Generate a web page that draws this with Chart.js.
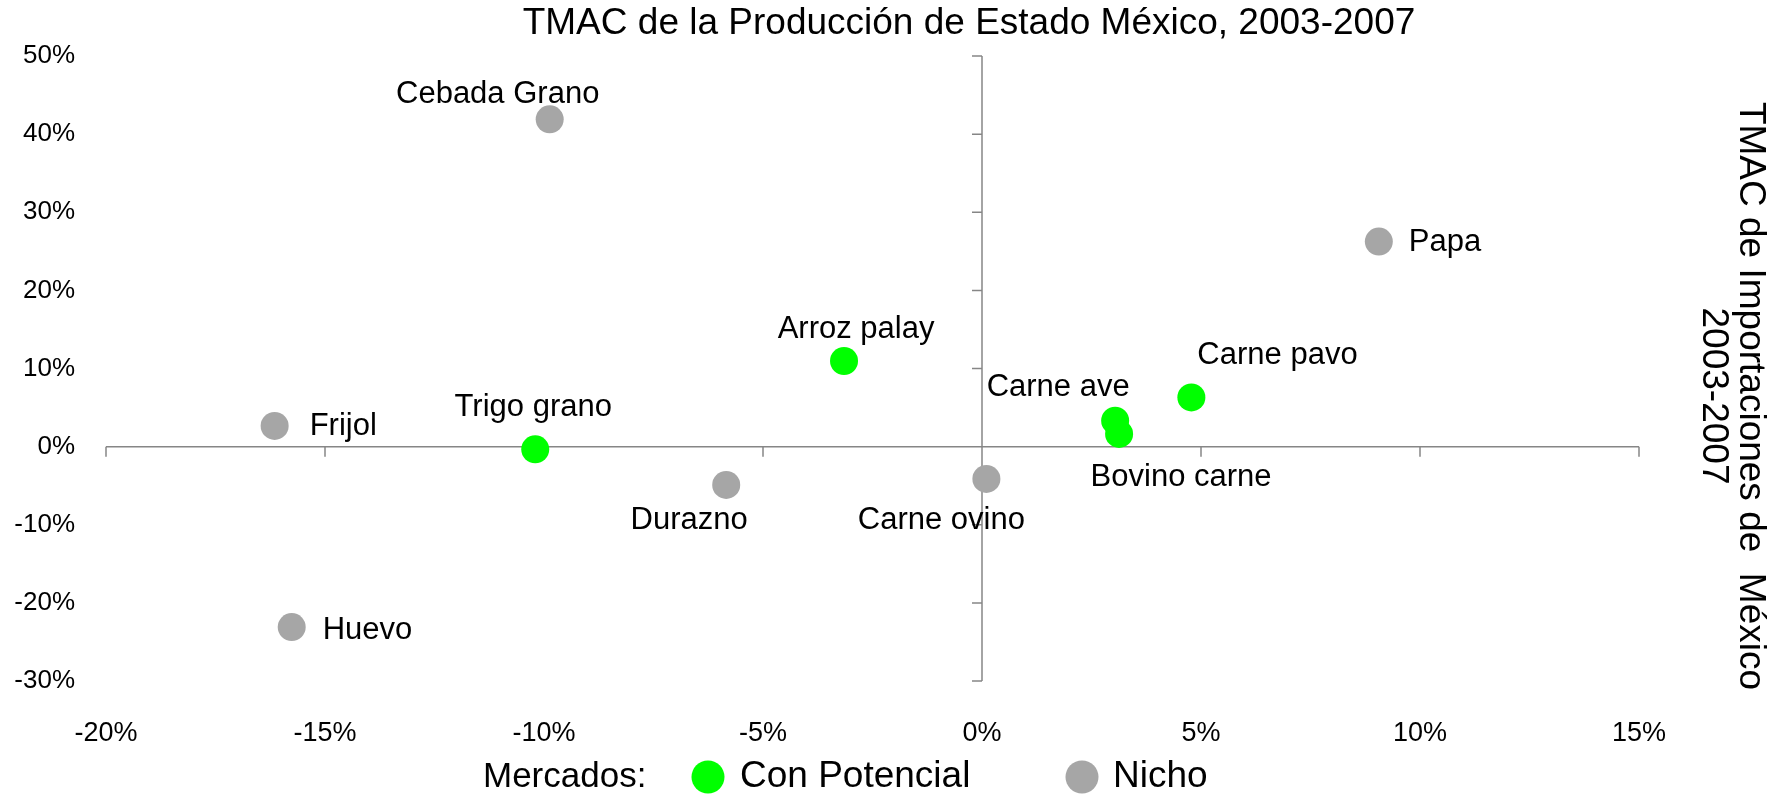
<!DOCTYPE html>
<html>
<head>
<meta charset="utf-8">
<script src="https://cdn.jsdelivr.net/npm/chart.js"></script>
<style>
  html, body { margin: 0; padding: 0; background: #fff; }
  #wrap { width: 1773px; height: 796px; }
</style>
</head>
<body>
<div id="wrap"><canvas id="chart" width="1773" height="796"></canvas></div>
<script>
// TMAC produccion Estado de Mexico (x) vs TMAC importaciones (y), en %
const potencialNames = ['Arroz palay', 'Trigo grano', 'Carne ave', 'Bovino carne', 'Carne pavo'];
const potencialX = [-3.15, -10.2, 3.04, 3.13, 4.78];
const potencialY = [10.96, -0.34, 3.32, 1.62, 6.3];

const nichoNames = ['Cebada Grano', 'Papa', 'Frijol', 'Durazno', 'Carne ovino', 'Huevo'];
const nichoX = [-9.87, 9.06, -16.15, -5.84, 0.10, -15.76];
const nichoY = [41.9, 26.25, 2.65, -4.9, -4.13, -23.1];

const xTicks = [-20, -15, -10, -5, 0, 5, 10, 15];
const yTicks = [-30, -20, -10, 0, 10, 20, 30, 40, 50];

const FONT = '"Liberation Sans", Arial, sans-serif';
const GREEN = '#00ff00';
const GREY = '#a6a6a6';
const AXIS = '#868686';

// donde va cada etiqueta respecto a su punto
const labelPos = {
  'Cebada Grano': { dx: -52, dy: -25, align: 'center' },
  'Papa': { dx: 30, dy: 1, align: 'left' },
  'Carne pavo': { dx: 6, dy: -42, align: 'left' },
  'Carne ave': { dx: -57, dy: -33, align: 'center' },
  'Bovino carne': { dx: 62, dy: 43, align: 'center' },
  'Carne ovino': { dx: -45, dy: 42, align: 'center' },
  'Durazno': { dx: -37, dy: 36, align: 'center' },
  'Arroz palay': { dx: 12, dy: -32, align: 'center' },
  'Trigo grano': { dx: -2, dy: -42, align: 'center' },
  'Frijol': { dx: 35, dy: 1, align: 'left' },
  'Huevo': { dx: 31, dy: 3, align: 'left' }
};

const toPoints = (xs, ys) => xs.map((v, i) => ({ x: v, y: ys[i] }));

const quadrantPlugin = {
  id: 'quadrant',
  beforeDatasetsDraw(chart) {
    const { ctx, scales: { x, y } } = chart;
    const x0 = x.getPixelForValue(0);
    const y0 = y.getPixelForValue(0);
    ctx.save();
    ctx.strokeStyle = AXIS;
    ctx.lineWidth = 1.5;
    ctx.beginPath();
    ctx.moveTo(x.left, y0); ctx.lineTo(x.right, y0);
    ctx.moveTo(x0, y.top); ctx.lineTo(x0, y.bottom);
    xTicks.forEach(v => {
      const px = x.getPixelForValue(v);
      ctx.moveTo(px, y0); ctx.lineTo(px, y0 + 10);
    });
    yTicks.forEach(v => {
      const py = y.getPixelForValue(v);
      ctx.moveTo(x0 - 10, py); ctx.lineTo(x0, py);
    });
    ctx.stroke();
    ctx.restore();
  },
  afterDatasetsDraw(chart) {
    const { ctx } = chart;
    ctx.save();
    ctx.font = '31px ' + FONT;
    ctx.fillStyle = '#000';
    ctx.textBaseline = 'middle';
    chart.data.datasets.forEach((ds, di) => {
      const meta = chart.getDatasetMeta(di);
      ds.names.forEach((name, i) => {
        const el = meta.data[i];
        const p = labelPos[name];
        ctx.textAlign = p.align;
        ctx.fillText(name, el.x + p.dx, el.y + p.dy);
      });
    });
    ctx.restore();
  },
  afterDraw(chart) {
    const { ctx } = chart;
    ctx.save();
    ctx.fillStyle = '#000';
    ctx.textBaseline = 'middle';

    // titulo arriba
    ctx.font = '37px ' + FONT;
    ctx.textAlign = 'center';
    ctx.fillText('TMAC de la Producción de Estado México, 2003-2007', 969, 24);

    // leyenda abajo
    const ly = 777;
    ctx.textAlign = 'left';
    ctx.font = '35px ' + FONT;
    ctx.fillText('Mercados:', 483, ly);
    ctx.font = '37px ' + FONT;
    const items = [
      { cx: 708, tx: 740, ds: chart.data.datasets[0] },
      { cx: 1082, tx: 1113, ds: chart.data.datasets[1] }
    ];
    items.forEach(it => {
      ctx.fillStyle = it.ds.backgroundColor;
      ctx.beginPath();
      ctx.arc(it.cx, ly, 16.5, 0, Math.PI * 2);
      ctx.fill();
      ctx.fillStyle = '#000';
      ctx.fillText(it.ds.label, it.tx, ly);
    });

    // titulo del eje derecho, girado
    ctx.font = '37px ' + FONT;
    ctx.textAlign = 'center';
    ctx.translate(1731.5, 396);
    ctx.rotate(Math.PI / 2);
    ctx.fillText('TMAC de Importaciones de  México', 0, -18.5);
    ctx.fillText('2003-2007', 0, 18.5);
    ctx.restore();
  }
};

new Chart(document.getElementById('chart'), {
  type: 'scatter',
  data: {
    datasets: [
      {
        label: 'Con Potencial',
        names: potencialNames,
        data: toPoints(potencialX, potencialY),
        backgroundColor: GREEN,
        borderWidth: 0,
        pointRadius: 14,
        pointHoverRadius: 14
      },
      {
        label: 'Nicho',
        names: nichoNames,
        data: toPoints(nichoX, nichoY),
        backgroundColor: GREY,
        borderWidth: 0,
        pointRadius: 14,
        pointHoverRadius: 14
      }
    ]
  },
  options: {
    responsive: false,
    animation: false,
    devicePixelRatio: 1,
    layout: { padding: { left: 0, right: 134, top: 56, bottom: 0 } },
    plugins: {
      legend: { display: false },
      tooltip: { enabled: false },
      title: { display: false }
    },
    scales: {
      x: {
        type: 'linear',
        min: xTicks[0],
        max: xTicks[xTicks.length - 1],
        afterBuildTicks: s => { s.ticks = xTicks.map(v => ({ value: v })); },
        afterFit: s => { s.height = 115; },
        grid: { display: false, drawTicks: false },
        border: { display: false },
        ticks: {
          padding: 36,
          color: '#000',
          font: { family: FONT, size: 27 },
          callback: v => v + '%'
        }
      },
      y: {
        type: 'linear',
        min: yTicks[0],
        max: yTicks[yTicks.length - 1],
        afterBuildTicks: s => { s.ticks = yTicks.map(v => ({ value: v })); },
        afterFit: s => { s.width = 106; },
        grid: { display: false, drawTicks: false },
        border: { display: false },
        ticks: {
          padding: 31,
          color: '#000',
          font: { family: FONT, size: 26 },
          callback: v => v + '%'
        }
      }
    }
  },
  plugins: [quadrantPlugin]
});
</script>
</body>
</html>
